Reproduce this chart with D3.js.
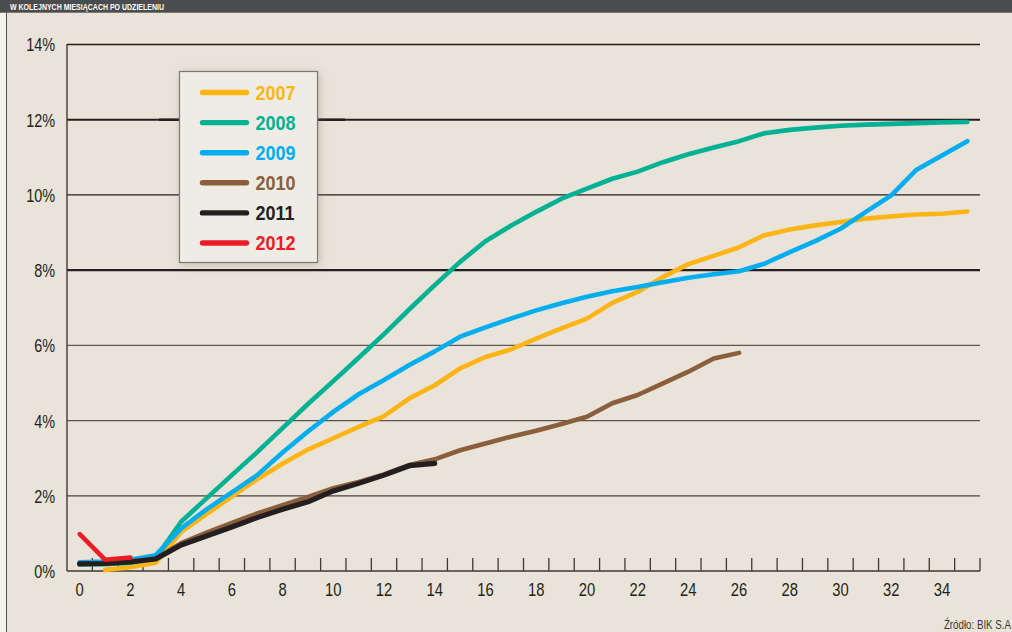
<!DOCTYPE html>
<html>
<head>
<meta charset="utf-8">
<script src="https://cdn.jsdelivr.net/npm/d3@7"></script>
<style>
  html, body { margin: 0; padding: 0; background: #e9e3da; }
  svg { display: block; }
  text { font-family: "Liberation Sans", Arial, sans-serif; }
</style>
</head>
<body>
<svg id="chart" width="1012" height="632"></svg>
<script>
// Months since the loan was granted (x categories)
const months = [0,1,2,3,4,5,6,7,8,9,10,11,12,13,14,15,16,17,18,19,20,21,22,23,24,25,26,27,28,29,30,31,32,33,34,35];
const xTickLabels = [0,2,4,6,8,10,12,14,16,18,20,22,24,26,28,30,32,34];
const yTicks = [0,2,4,6,8,10,12,14];

// Share of loans in arrears (%), per vintage year
const years = ["2007","2008","2009","2010","2011","2012"];
const colors = ["#fdb515","#00b193","#00adef","#8b5e3c","#231f20","#ed1c24"];

const v2007 = [null,0.03,0.1,0.22,1.04,1.51,1.98,2.44,2.85,3.23,3.53,3.83,4.12,4.59,4.94,5.39,5.69,5.89,6.18,6.45,6.71,7.13,7.42,7.82,8.16,8.38,8.61,8.93,9.08,9.19,9.28,9.37,9.43,9.48,9.5,9.56];
const v2008 = [0.18,0.18,0.22,0.35,1.31,1.93,2.55,3.16,3.8,4.44,5.05,5.67,6.3,6.96,7.6,8.22,8.77,9.18,9.55,9.9,10.17,10.43,10.62,10.87,11.08,11.26,11.43,11.64,11.73,11.79,11.84,11.87,11.89,11.91,11.93,11.94];
const v2009 = [0.23,0.25,0.3,0.42,1.13,1.64,2.09,2.55,3.15,3.71,4.23,4.7,5.08,5.48,5.84,6.23,6.48,6.71,6.93,7.12,7.29,7.44,7.55,7.68,7.8,7.89,7.97,8.17,8.48,8.77,9.1,9.55,9.99,10.67,11.05,11.43];
const v2010 = [0.2,0.2,0.25,0.33,0.74,1.02,1.28,1.53,1.75,1.97,2.2,2.37,2.57,2.82,2.97,3.21,3.39,3.57,3.73,3.91,4.1,4.46,4.68,4.99,5.3,5.65,5.8];
const v2011 = [0.19,0.2,0.24,0.32,0.69,0.93,1.17,1.42,1.64,1.84,2.13,2.33,2.55,2.8,2.86];
const v2012 = [0.98,0.3,0.36];
const seriesValues = [v2007, v2008, v2009, v2010, v2011, v2012];

const titleText = "W KOLEJNYCH MIESIĄCACH PO UDZIELENIU";
const sourceText = "Źródło: BIK S.A";

const svg = d3.select("#chart");
const W = 1012, H = 632;
const plot = { left: 67, right: 980, top: 44.5, bottom: 571 };

// Narrow the text horizontally (condensed look), keeping its anchor point fixed
function condense(sel, k) {
  sel.each(function () {
    const t = d3.select(this);
    const x0 = +t.attr("x") || 0;
    t.attr("x", x0 / k).attr("transform", `scale(${k},1)`);
  });
}

// Page background, left margin strip and header bar
svg.append("rect").attr("width", W).attr("height", H).attr("fill", "#e9e3da");
svg.append("rect").attr("x", 0).attr("y", 0).attr("width", 6.5).attr("height", H).attr("fill", "#f3f0e8");
svg.append("line").attr("x1", 6.5).attr("x2", 6.5).attr("y1", 12).attr("y2", H)
  .attr("stroke", "#55504b").attr("stroke-width", 1);
svg.append("rect").attr("x", 0).attr("y", 0).attr("width", W).attr("height", 12.7).attr("fill", "#4b4c4e");
svg.append("text").attr("x", 10).attr("y", 9.6)
  .attr("fill", "#ffffff").attr("font-size", 9.5).attr("font-weight", "bold")
  .attr("textLength", 154).attr("lengthAdjust", "spacingAndGlyphs")
  .text(titleText);

// Scales
const x = d3.scaleBand().domain(months).range([plot.left, plot.right]).paddingInner(0).paddingOuter(0);
const xc = d => x(d) + x.bandwidth() / 2;
const y = d3.scaleLinear().domain([0, 14]).range([plot.bottom, plot.top]);

// Horizontal gridlines
const gridStyle = {
  0: null,
  2: { w: 1.3, c: "#4a4541" },
  4: { w: 1.3, c: "#58534e" },
  6: { w: 1.4, c: "#5e5954" },
  8: { w: 2.1, c: "#231f20" },
  10: { w: 1.2, c: "#231f20" },
  12: { w: 1.9, c: "#231f20" },
  14: { w: 1.6, c: "#231f20" }
};
const grid = svg.append("g");
yTicks.filter(t => gridStyle[t]).forEach(t => {
  grid.append("line")
    .attr("x1", plot.left).attr("x2", plot.right)
    .attr("y1", y(t)).attr("y2", y(t))
    .attr("stroke", gridStyle[t].c).attr("stroke-width", gridStyle[t].w);
});
// darker stretch of the 12% rule behind the legend box
grid.append("line")
  .attr("x1", 159).attr("x2", 345).attr("y1", y(12)).attr("y2", y(12))
  .attr("stroke", "#231f20").attr("stroke-width", 2.6);

// Y axis
const yAxis = d3.axisLeft(y).tickValues(yTicks).tickSize(0).tickPadding(12).tickFormat(d => d + "%");
const gy = svg.append("g").attr("transform", `translate(${plot.left},0)`).call(yAxis);
gy.select(".domain").remove();
gy.selectAll("text").attr("font-size", 18.5).attr("fill", "#231f20").attr("dy", "0.35em")
  .attr("font-family", "'Liberation Sans', Arial, sans-serif").call(condense, 0.78);
svg.append("line").attr("x1", plot.left).attr("x2", plot.left)
  .attr("y1", plot.top - 0.5).attr("y2", plot.bottom)
  .attr("stroke", "#3d3935").attr("stroke-width", 1.4);

// X axis: labels at even months, tick marks on every band boundary pointing up
const xAxis = d3.axisBottom(x).tickValues(xTickLabels).tickSize(0).tickPadding(12);
const gx = svg.append("g").attr("transform", `translate(0,${plot.bottom})`).call(xAxis);
gx.select(".domain").remove();
gx.selectAll("text").attr("font-size", 18.5).attr("fill", "#231f20").attr("dy", "0.71em")
  .attr("font-family", "'Liberation Sans', Arial, sans-serif").call(condense, 0.8);
const bounds = months.map(m => x(m) + x.bandwidth());
svg.append("g").selectAll("line").data(bounds).join("line")
  .attr("x1", d => d).attr("x2", d => d)
  .attr("y1", plot.bottom).attr("y2", plot.bottom - 13)
  .attr("stroke", "#3d3935").attr("stroke-width", 1.3);
svg.append("line").attr("x1", plot.left).attr("x2", plot.right)
  .attr("y1", plot.bottom).attr("y2", plot.bottom)
  .attr("stroke", "#3d3935").attr("stroke-width", 1.6);

// Series lines
const line = d3.line()
  .defined(d => d.v !== null)
  .x(d => xc(d.m))
  .y(d => y(d.v));
const lines = svg.append("g");
seriesValues.forEach((vals, i) => {
  const pts = vals.map((v, k) => ({ m: months[k], v }));
  lines.append("path")
    .datum(pts)
    .attr("fill", "none")
    .attr("stroke", colors[i])
    .attr("stroke-width", i === 4 ? 5.2 : 4.6)
    .attr("stroke-linecap", "round")
    .attr("stroke-linejoin", "round")
    .attr("d", line);
});

// Legend
const defs = svg.append("defs");
const f = defs.append("filter").attr("id", "shadow").attr("x", "-20%").attr("y", "-20%").attr("width", "140%").attr("height", "140%");
f.append("feDropShadow").attr("dx", 1.5).attr("dy", 1.5).attr("stdDeviation", 4)
  .attr("flood-color", "#7a6f60").attr("flood-opacity", 0.35);

const lg = svg.append("g").attr("transform", "translate(179.5,71.5)");
lg.append("rect").attr("width", 138).attr("height", 191)
  .attr("fill", "#efece5").attr("stroke", "#7b7772").attr("stroke-width", 1.2)
  .attr("filter", "url(#shadow)");
years.forEach((yr, i) => {
  const yy = 21 + i * 30.1;
  lg.append("line").attr("x1", 23).attr("x2", 67).attr("y1", yy).attr("y2", yy)
    .attr("stroke", colors[i]).attr("stroke-width", 5.4).attr("stroke-linecap", "round");
  lg.append("text").attr("x", 76).attr("y", yy).attr("dy", "0.36em")
    .attr("font-size", 20).attr("font-weight", "bold").attr("fill", colors[i])
    .text(yr).call(condense, 0.9);
});

// Source note
svg.append("text").attr("x", 1011).attr("y", 629.5).attr("text-anchor", "end")
  .attr("font-size", 12.5).attr("fill", "#3a3632").text(sourceText).call(condense, 0.78);
</script>
</body>
</html>
